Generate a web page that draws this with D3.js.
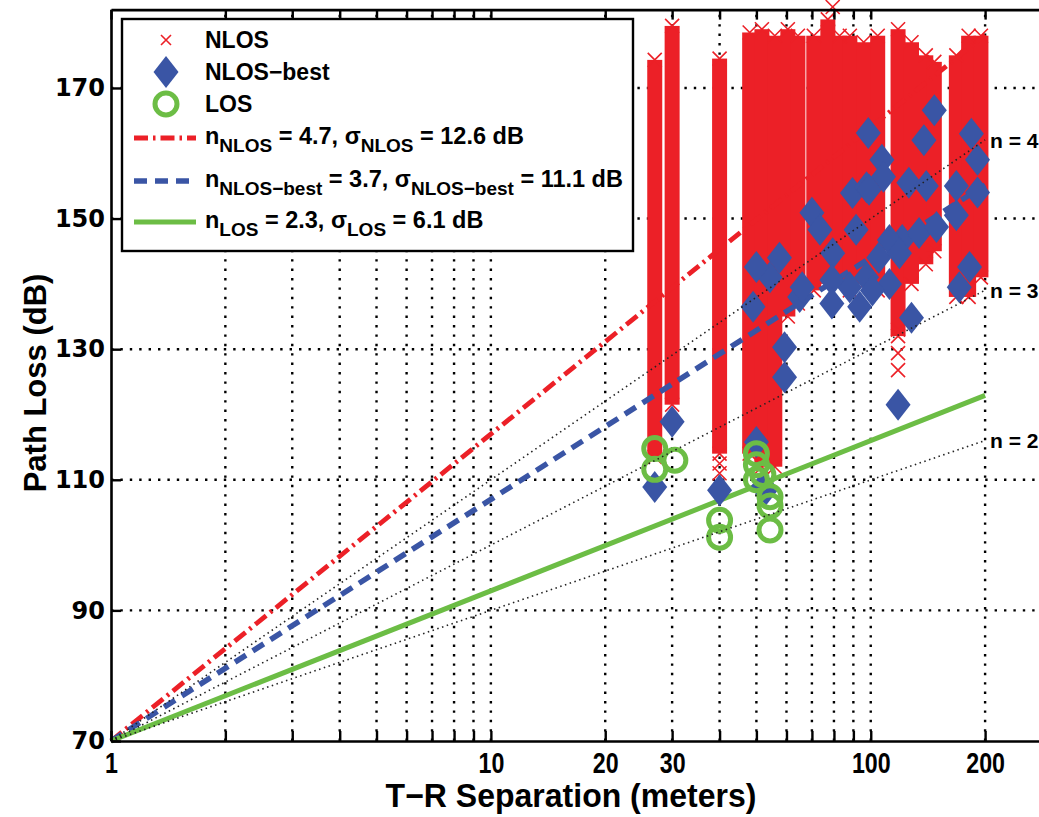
<!DOCTYPE html>
<html>
<head>
<meta charset="utf-8">
<script src="https://cdn.jsdelivr.net/npm/d3@7"></script>
<style>
  body { margin: 0; background: #fff; }
  svg { display: block; }
</style>
</head>
<body>
<svg id="chart"></svg>
<script>
// ---- data ----
// NLOS columns: distance (m), lowest and highest path loss (dB) of the stacked crosses
const nlosDist = [27, 30, 40, 48, 51.7, 55.9, 60.5, 64.3, 70.8, 77.1, 82.8, 88.1, 95.8, 104.3, 118, 128, 139.6, 147, 168, 181, 195];
const nlosLow  = [113.5, 121.5, 114, 114, 112, 112, 135, 137, 139, 140, 140, 139, 140, 139, 132, 140, 143, 145, 138, 138, 141];
const nlosHigh = [174.3, 179.5, 174.5, 178.5, 179, 178, 179, 178, 178, 180.5, 178, 178, 177, 178, 179, 177, 175, 174, 175, 178, 178];
// isolated NLOS crosses
const nlosLoneDist = [40, 40, 118, 118, 118, 79.4];
const nlosLonePL   = [112.5, 111, 133, 129.4, 126.8, 182.4];
// NLOS-best
const bestDist = [27, 30, 40, 50, 52, 53, 59.3, 59.3, 65, 49, 54.3, 50, 57.5, 66, 70, 73.5, 79.4,
                  98.5, 107, 108, 89.5, 97.5, 99, 91.5, 147, 138, 126, 140, 184, 191, 168, 191, 168, 182, 171,
                  121, 134, 149, 112, 105, 119, 97.5, 112, 88, 79, 128, 118, 79, 93.5, 101];
const bestPL   = [108.9, 118.9, 108.4, 115.8, 108.9, 108.5, 130.3, 125.7, 138, 136.5, 141, 142.6, 144, 139.5, 150.9, 148.3, 144.7,
                  163.1, 159, 156.4, 153.9, 154.8, 154.4, 148.3, 166.6, 162, 155.5, 155, 163, 159, 155, 154, 150.5, 142.6, 139.5,
                  146.7, 147.8, 148.7, 146.7, 144, 144.7, 141, 140, 139.5, 140.6, 134.8, 121.5, 137, 136.5, 139];
// LOS
const losDist = [27, 27, 30.5, 40, 40, 50, 50, 50, 52, 54.3, 54.3, 54.3];
const losPL   = [114.8, 111.6, 113, 103.8, 101.2, 114, 112.3, 110, 110.8, 107.4, 106, 102.3];
// fitted models PL = 70 + 10 n log10(d)
const fitKeys  = ["NLOS", "NLOS−best", "LOS"];
const fitN     = [4.7, 3.7, 2.3];
const fitSigma = [12.6, 11.1, 6.1];
const refN     = [4, 3, 2];
const fitRange = [1, 200];
// axes
const xTicks  = [1, 2, 3, 4, 5, 6, 7, 8, 9, 10, 20, 30, 40, 50, 60, 70, 80, 90, 100, 200, 300];
const xLabels = [1, 10, 20, 30, 100, 200];
const yTicks  = [70, 90, 110, 130, 150, 170];

// ---- layout ----
const W = 1039, H = 817;
const red = "#ec2027", blue = "#3a55a5", green = "#6cbd45";
const svg = d3.select("#chart").attr("width", W).attr("height", H)
  .style("font-family", "'Liberation Sans', Arial, sans-serif");

const x = d3.scaleLog().domain([1, 300]).range([111, 1052]);
const y = d3.scaleLinear().domain([70, 182]).range([741, 9.6]);
const pl = (n, d) => 70 + 10 * n * Math.log10(d);

// grid
const grid = svg.append("g").attr("stroke", "#000").attr("stroke-width", 2.4).attr("stroke-dasharray", "2.4,7");
grid.selectAll(".gx").data(xTicks.filter(d => d > 1 && d < 300)).join("line")
  .attr("x1", d => x(d)).attr("x2", d => x(d)).attr("y1", y.range()[0]).attr("y2", y.range()[1]);
grid.selectAll(".gy").data(yTicks.filter(d => d > 70)).join("line")
  .attr("y1", d => y(d)).attr("y2", d => y(d)).attr("x1", x.range()[0]).attr("x2", x.range()[1]);

// NLOS columns
const crossPath = s => `M${-s},${-s}L${s},${s}M${-s},${s}L${s},${-s}`;
const nlos = svg.append("g");
const cols = nlosDist.map((d, i) => ({ d, lo: nlosLow[i], hi: nlosHigh[i] }));
nlos.selectAll("rect").data(cols).join("rect")
  .attr("x", c => x(c.d) - 7.5).attr("width", 15)
  .attr("y", c => y(c.hi)).attr("height", c => y(c.lo) - y(c.hi))
  .attr("fill", red);
const ends = cols.flatMap(c => [{ d: c.d, v: c.lo }, { d: c.d, v: c.hi }])
  .concat(nlosLoneDist.map((d, i) => ({ d, v: nlosLonePL[i] })));
nlos.selectAll("path").data(ends).join("path")
  .attr("transform", p => `translate(${x(p.d)},${y(p.v)})`)
  .attr("d", crossPath(7)).attr("stroke", red).attr("stroke-width", 1.6).attr("fill", "none");

// fitted lines
const fitStyle = [
  { color: red, dash: "14,5,2.5,5", width: 4.8 },
  { color: blue, dash: "13,8", width: 5.5 },
  { color: green, dash: null, width: 5 }
];
const line = d3.line().x(p => x(p[0])).y(p => y(p[1]));
const fits = svg.append("g").attr("fill", "none");
fitN.forEach((n, i) => {
  fits.append("path")
    .attr("d", line(fitRange.map(d => [d, pl(n, d)])))
    .attr("stroke", fitStyle[i].color).attr("stroke-width", fitStyle[i].width)
    .attr("stroke-dasharray", fitStyle[i].dash);
});

// NLOS-best diamonds
const diamond = (w, h) => `M0,${-h}L${w},0L0,${h}L${-w},0Z`;
svg.append("g").selectAll("path").data(bestDist.map((d, i) => [d, bestPL[i]])).join("path")
  .attr("transform", p => `translate(${x(p[0])},${y(p[1])})`)
  .attr("d", diamond(12.5, 16)).attr("fill", blue);

// LOS circles
svg.append("g").selectAll("circle").data(losDist.map((d, i) => [d, losPL[i]])).join("circle")
  .attr("cx", p => x(p[0])).attr("cy", p => y(p[1])).attr("r", 11)
  .attr("fill", "none").attr("stroke", green).attr("stroke-width", 5);

// reference slopes n = 2, 3, 4
const refs = svg.append("g");
refN.forEach(n => {
  refs.append("path").attr("d", line(fitRange.map(d => [d, pl(n, d)])))
    .attr("fill", "none").attr("stroke", "#222").attr("stroke-width", 1.6).attr("stroke-dasharray", "1.5,3.5");
  refs.append("text").attr("x", x(200) + 5).attr("y", y(pl(n, 200)) + 8)
    .attr("font-weight", "bold").attr("font-size", 21).text(`n = ${n}`);
});

// axes
const axB = svg.append("g").attr("transform", `translate(0,${y(70)})`)
  .call(d3.axisBottom(x).tickValues(xTicks).tickSizeInner(-10).tickSizeOuter(0).tickPadding(11)
    .tickFormat(d => xLabels.includes(d) ? d : ""));
const axT = svg.append("g").attr("transform", `translate(0,${y.range()[1]})`)
  .call(d3.axisTop(x).tickValues(xTicks).tickSizeInner(-10).tickSizeOuter(0).tickFormat(""));
const axL = svg.append("g").attr("transform", `translate(${x(1)},0)`)
  .call(d3.axisLeft(y).tickValues(yTicks).tickSizeInner(-10).tickSizeOuter(0).tickPadding(6));
[axB, axT, axL].forEach(g => {
  g.select(".domain").attr("stroke", "#000").attr("stroke-width", 2.6);
  g.selectAll(".tick line").attr("stroke", "#000").attr("stroke-width", 2.4);
});
axB.selectAll("text").attr("font-weight", "bold").attr("font-size", 29).attr("fill", "#000")
  .attr("transform", "scale(0.8,1)");
axL.selectAll("text").attr("font-family", "'DejaVu Sans', sans-serif")
  .attr("font-weight", "bold").attr("font-size", 24).attr("fill", "#000");

// axis titles
svg.append("text").attr("transform", "translate(571,807) scale(0.97,1)").attr("text-anchor", "middle")
  .attr("font-weight", "bold").attr("font-size", 33).text("T−R Separation (meters)");
svg.append("text").attr("transform", "translate(46,383) rotate(-90)").attr("text-anchor", "middle")
  .attr("font-weight", "bold").attr("font-size", 31).text("Path Loss (dB)");

// legend
const leg = svg.append("g");
leg.append("rect").attr("x", 122).attr("y", 19).attr("width", 511).attr("height", 232)
  .attr("fill", "#fff").attr("stroke", "#000").attr("stroke-width", 2.4);
const lx = 166, tx = 205;
const rowY = [40, 72, 104, 138, 181, 222];
leg.append("path").attr("transform", `translate(${lx},${rowY[0]})`).attr("d", crossPath(5))
  .attr("stroke", red).attr("stroke-width", 1.6);
leg.append("path").attr("transform", `translate(${lx},${rowY[1]})`).attr("d", diamond(12.5, 16)).attr("fill", blue);
leg.append("circle").attr("cx", lx).attr("cy", rowY[2]).attr("r", 11)
  .attr("fill", "none").attr("stroke", green).attr("stroke-width", 5);
["NLOS", "NLOS−best", "LOS"].forEach((t, i) => {
  leg.append("text").attr("x", tx).attr("y", rowY[i] + 8).attr("font-weight", "bold").attr("font-size", 23).text(t);
});
fitKeys.forEach((k, i) => {
  const yy = rowY[3 + i];
  leg.append("line").attr("x1", 134).attr("x2", 196).attr("y1", yy).attr("y2", yy)
    .attr("stroke", fitStyle[i].color).attr("stroke-width", fitStyle[i].width)
    .attr("stroke-dasharray", fitStyle[i].dash);
  const t = leg.append("text").attr("x", tx).attr("y", yy + 6).attr("font-weight", "bold").attr("font-size", 23.5);
  t.append("tspan").text("n");
  t.append("tspan").attr("dy", 8).attr("font-size", 19).text(k);
  t.append("tspan").attr("dy", -8).text(` = ${fitN[i]}, σ`);
  t.append("tspan").attr("dy", 8).attr("font-size", 19).text(k);
  t.append("tspan").attr("dy", -8).text(` = ${fitSigma[i]} dB`);
});
</script>
</body>
</html>
